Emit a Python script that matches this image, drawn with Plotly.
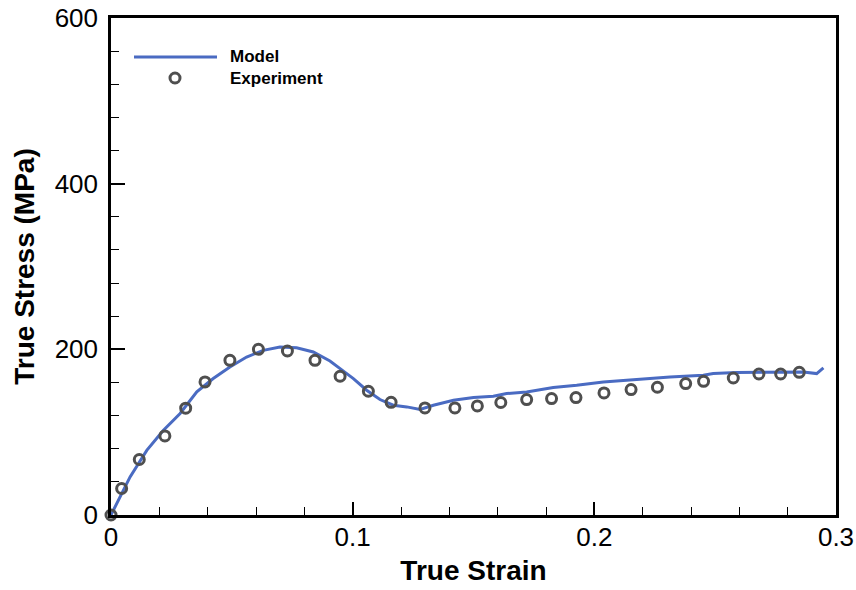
import plotly.graph_objects as go

# Model prediction (true strain, true stress in MPa)
model_strain = [0.0, 0.0040, 0.0079, 0.0148, 0.0216, 0.0286, 0.0355, 0.0423, 0.0492,
                0.0561, 0.0630, 0.0699, 0.0768, 0.0837, 0.0906, 0.0948, 0.1003,
                0.1058, 0.1113, 0.1168, 0.1224, 0.1279, 0.1334, 0.1417, 0.1500,
                0.1582, 0.1637, 0.1720, 0.1830, 0.1927, 0.2037, 0.2175, 0.2313,
                0.2451, 0.2492, 0.2589, 0.2727, 0.2865, 0.2920, 0.2948]
model_stress = [0.0, 24.0, 46.0, 78.0, 102.0, 122.5, 148.6, 164.7, 178.7,
                190.7, 198.8, 202.8, 202.0, 196.8, 186.0, 176.7, 164.7,
                150.6, 139.4, 132.5, 130.5, 127.3, 132.5, 138.6, 141.8,
                143.4, 146.6, 148.6, 153.8, 156.6, 160.6, 163.5, 166.6,
                168.7, 170.7, 171.9, 171.9, 172.7, 170.7, 177.5]

# Measured data
exp_strain = [0.0, 0.0044, 0.0117, 0.0223, 0.0309, 0.0389, 0.0492, 0.0610, 0.0730,
              0.0844, 0.0948, 0.1065, 0.1159, 0.1299, 0.1423, 0.1516, 0.1613,
              0.1720, 0.1823, 0.1924, 0.2040, 0.2152, 0.2261, 0.2378, 0.2452,
              0.2575, 0.2681, 0.2771, 0.2848]
exp_stress = [0.0, 32.0, 67.0, 95.5, 129.0, 160.6, 186.7, 200.0, 198.0,
              186.7, 167.5, 149.4, 136.0, 129.3, 129.3, 131.7, 135.8,
              139.4, 140.6, 141.8, 147.4, 151.4, 154.2, 158.7, 161.4,
              165.4, 170.2, 170.2, 172.3]

x_ticks = [0, 0.1, 0.2, 0.3]
x_tick_text = ["0", "0.1", "0.2", "0.3"]
y_ticks = [0, 200, 400, 600]
y_tick_text = ["0", "200", "400", "600"]

LINE_BLUE = "#4a6bc2"
MARK_GRAY = "#4f4f4f"
FONT = "Liberation Sans, Arial, sans-serif"

fig = go.Figure()
fig.add_trace(go.Scatter(
    x=model_strain, y=model_stress, mode="lines", name="Model",
    line=dict(color=LINE_BLUE, width=3), showlegend=False,
))
fig.add_trace(go.Scatter(
    x=exp_strain, y=exp_stress, mode="markers", name="Experiment",
    marker=dict(symbol="circle-open", size=10, color=MARK_GRAY,
                line=dict(color=MARK_GRAY, width=3)),
    cliponaxis=False, showlegend=False,
))

axis_common = dict(
    showgrid=False, zeroline=False, showline=True, linecolor="black",
    linewidth=2.5, mirror=True, ticks="inside", tickcolor="black",
    tickwidth=2, tickfont=dict(family=FONT, size=26, color="black"),
    automargin=False,
)

fig.update_xaxes(
    range=[0, 0.3], tickvals=x_ticks, ticktext=x_tick_text, ticklen=13,
    minor=dict(ticks="inside", ticklen=8, tickwidth=1, tickcolor="black", dtick=0.02),
    title=dict(text="True Strain", standoff=10,
               font=dict(family=FONT, size=28, color="black", weight="bold")),
    ticklabelstandoff=-3,
    **axis_common,
)
fig.update_yaxes(
    range=[0, 600], tickvals=y_ticks, ticktext=y_tick_text, ticklen=14,
    minor=dict(ticks="inside", ticklen=8, tickwidth=1, tickcolor="black", dtick=40),
    title=dict(text="True Stress (MPa)", standoff=12,
               font=dict(family=FONT, size=28, color="black", weight="bold")),
    ticklabelstandoff=5,
    **axis_common,
)

# Legend block in the upper-left corner of the plot area
W, H = 725.0, 497.0
def px_x(v):
    return (v - 111) / W
def px_y(v):
    return (515 - v) / H

fig.add_shape(type="line", xref="paper", yref="paper",
              x0=px_x(134), x1=px_x(217), y0=px_y(57), y1=px_y(57),
              line=dict(color=LINE_BLUE, width=3))
fig.add_shape(type="circle", xref="paper", yref="paper",
              xsizemode="pixel", ysizemode="pixel",
              xanchor=px_x(175), yanchor=px_y(78),
              x0=-5, x1=5, y0=-5, y1=5,
              line=dict(color=MARK_GRAY, width=3))
for label, ypx in [("Model", 57), ("Experiment", 78)]:
    fig.add_annotation(x=px_x(228), y=px_y(ypx), xref="paper", yref="paper",
                       text=label, showarrow=False, xanchor="left", yanchor="middle",
                       font=dict(family=FONT, size=17, color="black", weight="bold"))

fig.update_layout(
    width=856, height=590,
    margin=dict(l=111, r=20, t=18, b=75),
    paper_bgcolor="white", plot_bgcolor="white",
    showlegend=False,
)

fig.write_html("out.html")
